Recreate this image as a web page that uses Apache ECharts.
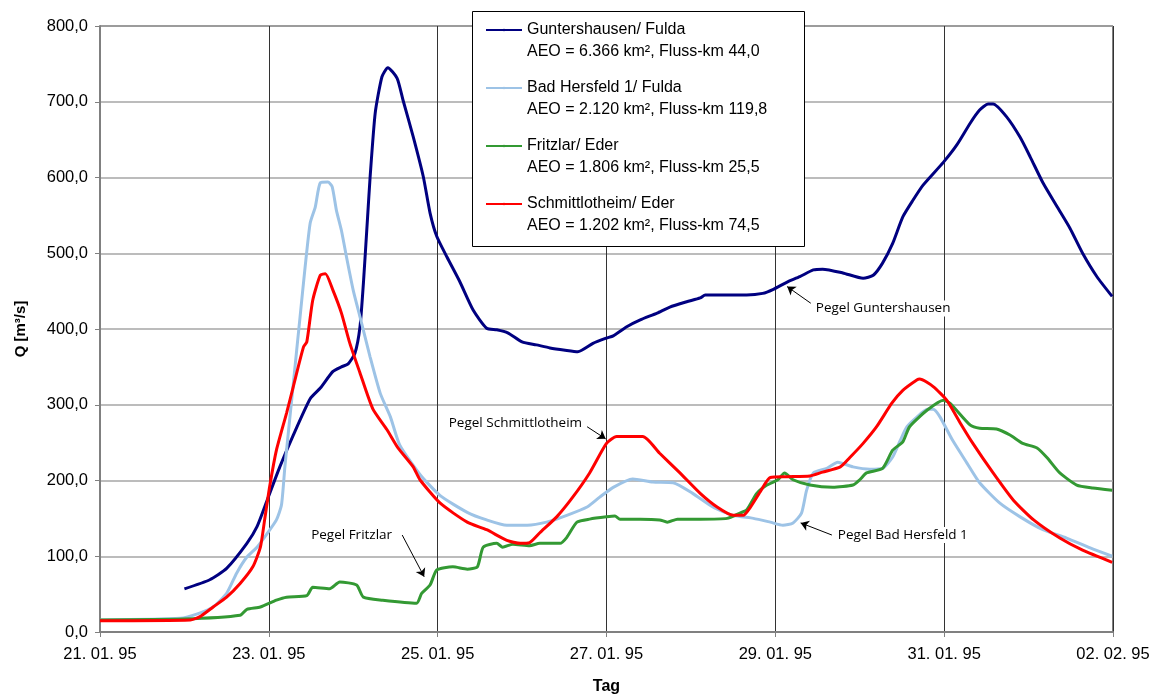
<!DOCTYPE html>
<html>
<head>
<meta charset="utf-8">
<script src="https://cdn.jsdelivr.net/npm/echarts@6/dist/echarts.min.js"></script>
<style>
  html, body { margin: 0; padding: 0; background: #fff; }
  #chart-container { width: 1160px; height: 697px; }
</style>
</head>
<body>
<div id="chart-container"></div>
<script>
// x = days since 21.01.95 00:00, y = Q in m³/s
var tickLabels = ["21. 01. 95", "23. 01. 95", "25. 01. 95", "27. 01. 95", "29. 01. 95", "31. 01. 95", "02. 02. 95"];

var seriesNames = [
  "Guntershausen/ Fulda",
  "Bad Hersfeld 1/ Fulda",
  "Fritzlar/ Eder",
  "Schmittlotheim/ Eder"
];
var seriesInfo = [
  "AEO = 6.366 km², Fluss-km 44,0",
  "AEO = 2.120 km², Fluss-km 119,8",
  "AEO = 1.806 km², Fluss-km 25,5",
  "AEO = 1.202 km², Fluss-km 74,5"
];

var gunters = [
  [1.00,57],[1.30,69],[1.50,84],[1.74,117],[1.86,139],[1.98,174],[2.13,218],[2.29,260],[2.49,308],
  [2.61,322],[2.76,344],[2.86,350],[2.94,354],[3.02,368],[3.08,403],[3.12,460],[3.17,548],[3.20,601],
  [3.26,685],[3.34,733],[3.41,745],[3.52,731],[3.59,702],[3.71,654],[3.83,601],[3.91,553],[3.99,522],
  [4.11,495],[4.26,463],[4.42,425],[4.58,401],[4.70,399],[4.83,395],[5.00,383],[5.17,379],[5.33,375],
  [5.51,372],[5.66,370],[5.84,381],[6.00,388],[6.08,391],[6.24,403],[6.40,412],[6.60,421],[6.75,429],
  [6.95,436],[7.11,441],[7.17,445],[7.38,445],[7.66,445],[7.85,447],[7.97,452],[8.14,462],[8.29,469],
  [8.45,478],[8.56,479],[8.80,474],[9.04,467],[9.16,471],[9.27,487],[9.39,513],[9.51,548],[9.63,570],
  [9.75,590],[9.99,620],[10.15,643],[10.31,672],[10.42,689],[10.52,697],[10.58,697],[10.74,680],
  [10.90,653],[11.02,627],[11.17,593],[11.34,561],[11.49,533],[11.64,500],[11.81,469],[11.99,443]
];

var hersfeld = [
  [0,16],[0.95,18],[1.18,25],[1.34,33],[1.50,51],[1.62,78],[1.74,99],[1.86,112],[1.98,130],[2.09,148],
  [2.15,168],[2.19,218],[2.23,262],[2.29,328],[2.37,416],[2.43,482],[2.49,540],[2.55,561],[2.61,593],
  [2.70,594],[2.75,588],[2.80,557],[2.86,530],[2.92,495],[3.00,451],[3.08,416],[3.20,363],[3.32,315],
  [3.44,284],[3.55,247],[3.79,208],[4.03,180],[4.35,158],[4.58,148],[4.82,141],[5.06,141],[5.29,145],
  [5.53,154],[5.77,165],[5.92,178],[6.08,191],[6.31,202],[6.55,198],[6.79,197],[7.02,183],[7.26,165],
  [7.50,154],[7.74,150],[7.94,145],[8.09,141],[8.21,144],[8.31,157],[8.37,187],[8.45,210],[8.61,216],
  [8.74,224],[8.92,218],[9.12,215],[9.27,216],[9.39,231],[9.48,253],[9.56,271],[9.68,284],[9.80,294],
  [9.87,294],[9.95,284],[10.10,253],[10.27,223],[10.42,197],[10.66,170],[10.90,152],[11.17,135],
  [11.45,124],[11.73,111],[11.99,100]
];

var fritzlar = [
  [0,16],[0.98,17],[1.66,22],[1.74,30],[1.90,33],[2.09,42],[2.21,46],[2.45,48],[2.52,59],[2.72,57],
  [2.84,66],[3.04,62],[3.12,46],[3.35,42],[3.75,38],[3.81,51],[3.91,62],[3.99,82],[4.18,86],[4.35,83],
  [4.47,86],[4.54,112],[4.70,117],[4.77,112],[4.89,116],[5.09,114],[5.21,117],[5.45,117],[5.53,125],
  [5.65,145],[5.80,149],[6.00,152],[6.10,153],[6.16,149],[6.40,149],[6.63,148],[6.72,145],[6.84,149],
  [7.11,149],[7.43,150],[7.58,157],[7.66,161],[7.78,183],[7.90,194],[8.03,201],[8.11,210],[8.21,201],
  [8.41,194],[8.68,191],[8.92,194],[9.00,201],[9.08,210],[9.27,216],[9.39,240],[9.51,251],[9.59,271],
  [9.80,293],[9.99,306],[10.07,302],[10.31,273],[10.42,269],[10.62,268],[10.78,260],[10.93,249],
  [11.10,243],[11.22,230],[11.37,210],[11.57,194],[11.76,190],[11.99,187]
];

var schmitt = [
  [0,15],[1.07,16],[1.18,20],[1.34,33],[1.50,46],[1.66,64],[1.81,86],[1.90,112],[1.95,148],[2.01,192],
  [2.09,240],[2.21,289],[2.29,324],[2.41,376],[2.45,383],[2.52,438],[2.61,471],[2.67,473],[2.76,451],
  [2.86,421],[2.96,381],[3.08,342],[3.23,295],[3.40,267],[3.53,243],[3.71,218],[3.79,201],[4.03,170],
  [4.35,145],[4.58,135],[4.82,121],[4.98,117],[5.09,118],[5.21,131],[5.41,152],[5.60,178],[5.80,210],
  [6.00,249],[6.12,258],[6.43,258],[6.63,236],[6.87,210],[7.11,183],[7.31,165],[7.50,154],[7.62,154],
  [7.70,164],[7.82,185],[7.94,204],[8.14,205],[8.41,206],[8.56,211],[8.77,218],[8.88,230],[9.04,249],
  [9.20,271],[9.38,302],[9.51,319],[9.68,333],[9.71,334],[9.87,324],[10.03,306],[10.19,276],
  [10.34,249],[10.58,210],[10.82,174],[11.06,148],[11.37,124],[11.64,108],[11.99,92]
];

// annotations: arrow [tail, head] and text anchor, in data units
var noteGunters = { text: "Pegel Guntershausen", arrow: [[8.42,434],[8.14,456]], at: [8.45,427], side: "right" };
var noteHersfeld = { text: "Pegel Bad Hersfeld 1", arrow: [[8.67,128],[8.30,144]], at: [8.71,128], side: "right" };
var noteFritzlar = { text: "Pegel Fritzlar", arrow: [[3.58,128],[3.84,73]], at: [3.49,128], side: "left" };
var noteSchmitt = { text: "Pegel Schmittlotheim", arrow: [[5.77,271],[5.99,255]], at: [5.74,276], side: "left" };

var colors = ["#000080", "#9dc3e6", "#339933", "#ff0000"];

function noteMarks(note) {
  return {
    markLine: {
      silent: true,
      animation: false,
      symbol: ["none", "arrow"],
      symbolSize: 8,
      label: { show: false },
      lineStyle: { color: "#000", width: 1, type: "solid" },
      data: [[{ coord: note.arrow[0] }, { coord: note.arrow[1] }]]
    },
    markPoint: {
      silent: true,
      animation: false,
      symbol: "circle",
      symbolSize: 1,
      itemStyle: { color: "rgba(0,0,0,0)" },
      label: {
        show: true,
        position: note.side,
        distance: 0,
        formatter: note.text,
        color: "#000",
        fontFamily: "Open Sans",
        fontSize: 13.5,
        backgroundColor: "#fff",
        padding: [1, 2]
      },
      data: [{ coord: note.at }]
    }
  };
}

function makeSeries(name, data, color, note) {
  var s = {
    name: name,
    type: "line",
    data: data,
    symbol: "none",
    smooth: 0.2,
    lineStyle: { color: color, width: 3 },
    itemStyle: { color: color },
    emphasis: { disabled: true }
  };
  var m = noteMarks(note);
  s.markLine = m.markLine;
  s.markPoint = m.markPoint;
  return s;
}

var dom = document.getElementById("chart-container");
var myChart = echarts.init(dom, null, { renderer: "canvas" });

var option = {
  backgroundColor: "#fff",
  animation: false,
  textStyle: { fontFamily: "Liberation Sans, Arial, sans-serif" },
  grid: {
    left: 100, right: 47, top: 26, bottom: 65,
    show: true, borderColor: "#000", borderWidth: 1,
    outerBoundsMode: "none"
  },
  graphic: [{
    type: "rect",
    left: 472, top: 11, z: 1,
    shape: { width: 332, height: 235 },
    style: { fill: "#fff", stroke: "#000", lineWidth: 1 }
  }],
  legend: {
    orient: "vertical",
    left: 485,
    top: -3,
    padding: 0,
    itemGap: -8,
    itemWidth: 36,
    itemHeight: 3,
    selectedMode: false,
    data: seriesNames,
    // empty first line keeps the icon level with the station name
    formatter: function (name) {
      return "{e| }\n" + name + "\n" + seriesInfo[seriesNames.indexOf(name)];
    },
    textStyle: {
      fontFamily: "Liberation Sans, Arial, sans-serif",
      fontSize: 16,
      lineHeight: 22,
      color: "#000",
      rich: { e: { lineHeight: 22, fontSize: 16 } }
    }
  },
  xAxis: {
    type: "value",
    min: 0,
    max: 12,
    interval: 2,
    name: "Tag",
    nameLocation: "middle",
    nameGap: 47,
    nameTextStyle: { fontWeight: "bold", fontSize: 16, color: "#000", fontFamily: "Liberation Sans, Arial, sans-serif" },
    axisLine: { show: true, onZero: false, lineStyle: { color: "#808080", width: 2 } },
    axisTick: { show: true, length: 5, lineStyle: { color: "#808080", width: 1 } },
    axisLabel: {
      margin: 14,
      fontSize: 16.5,
      color: "#000",
      formatter: function (v) { return tickLabels[Math.round(v / 2)]; }
    },
    splitLine: { show: true, lineStyle: { color: "#333", width: 1 } }
  },
  yAxis: {
    type: "value",
    min: 0,
    max: 800,
    interval: 100,
    name: "Q [m³/s]",
    nameLocation: "middle",
    nameGap: 72,
    nameTextStyle: { fontWeight: "bold", fontSize: 15, color: "#000", fontFamily: "Liberation Sans, Arial, sans-serif" },
    axisLine: { show: true, lineStyle: { color: "#808080", width: 2 } },
    axisTick: { show: true, length: 5, lineStyle: { color: "#808080", width: 1 } },
    axisLabel: {
      margin: 12,
      fontSize: 16.5,
      color: "#000",
      formatter: function (v) { return v.toFixed(1).replace(".", ","); }
    },
    splitLine: { show: true, lineStyle: { color: "#a6a6a6", width: 1.5 } }
  },
  series: [
    makeSeries(seriesNames[0], gunters, colors[0], noteGunters),
    makeSeries(seriesNames[1], hersfeld, colors[1], noteHersfeld),
    makeSeries(seriesNames[2], fritzlar, colors[2], noteFritzlar),
    makeSeries(seriesNames[3], schmitt, colors[3], noteSchmitt)
  ]
};

if (option && typeof option === "object") {
  myChart.setOption(option, true);
}
</script>
</body>
</html>
